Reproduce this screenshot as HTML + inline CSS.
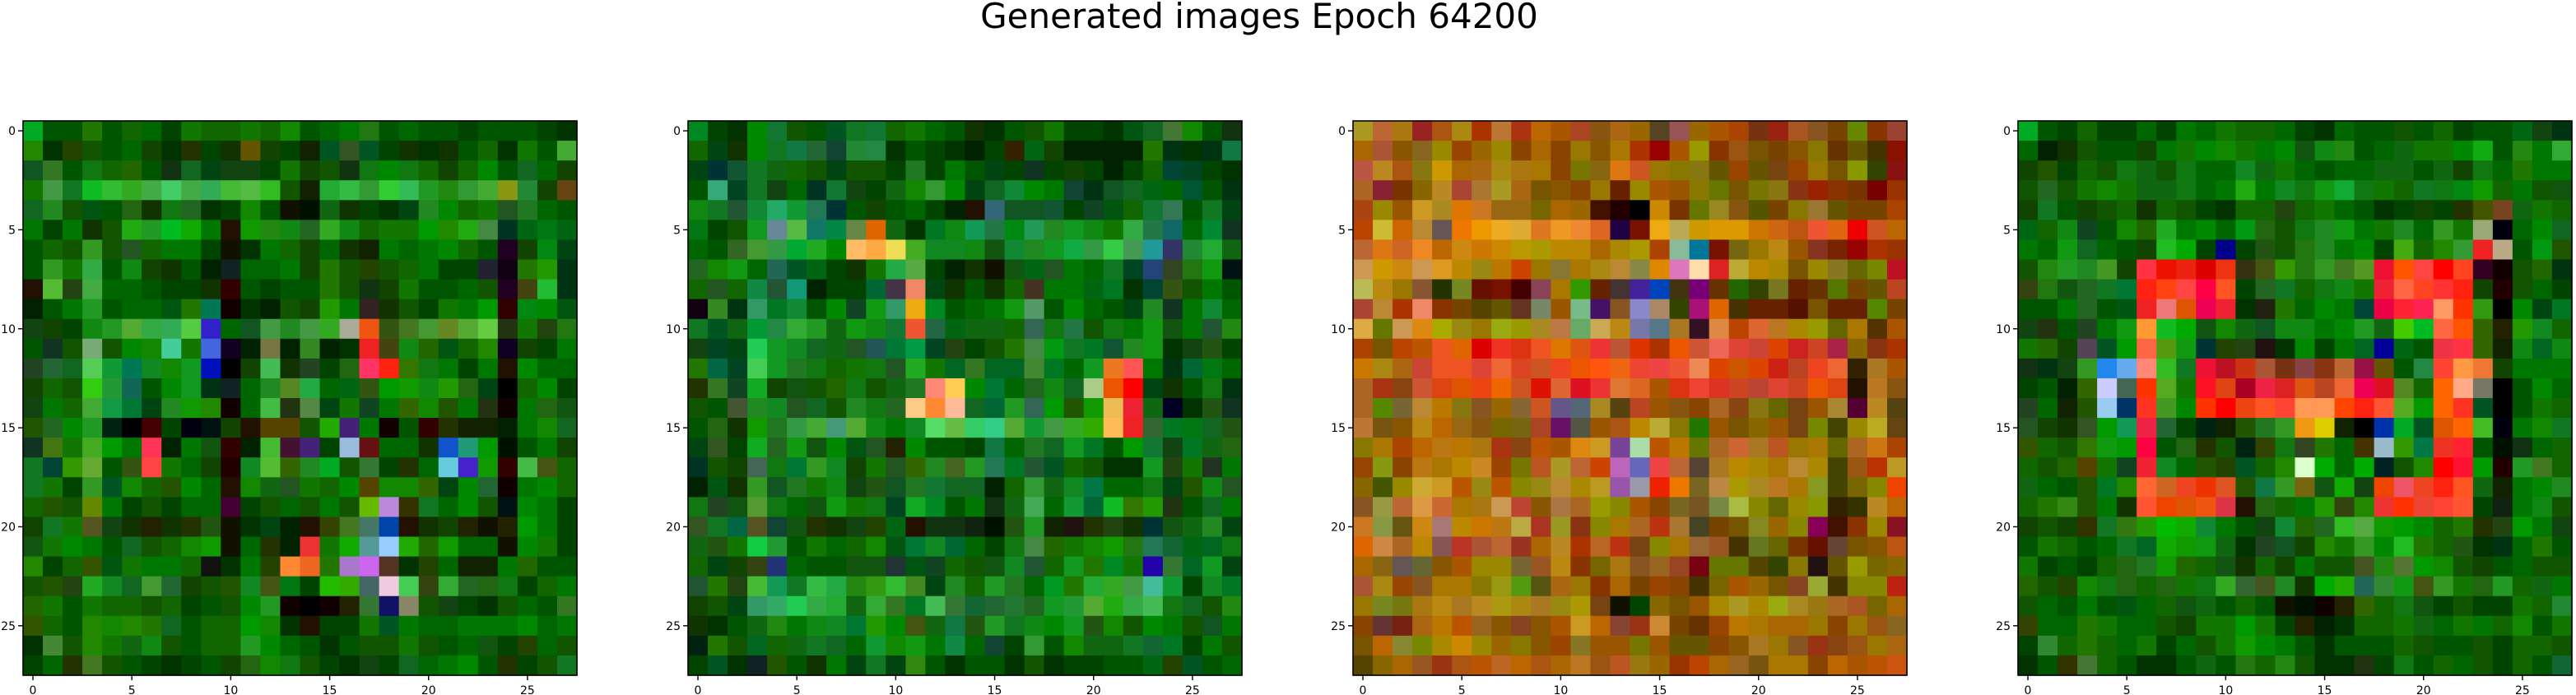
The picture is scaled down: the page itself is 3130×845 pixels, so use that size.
<!DOCTYPE html>
<html><head><meta charset="utf-8">
<style>
html,body{margin:0;padding:0;background:#fff;}
body{width:3130px;height:845px;overflow:hidden;position:relative;font-family:"DejaVu Sans","Liberation Sans",sans-serif;}
svg{position:absolute;left:0;top:0;}
</style></head>
<body>
<svg id="fig" width="3130" height="845" viewBox="0 0 3130 845" xmlns="http://www.w3.org/2000/svg">
<text x="1530" y="34" text-anchor="middle" font-size="42" font-family="DejaVu Sans, Liberation Sans, sans-serif" fill="#000">Generated images Epoch 64200</text>
</svg>
<script>
const tickValues = [0, 5, 10, 15, 20, 25];
const tickLabels = ["0", "5", "10", "15", "20", "25"];
const img1 = [
"0a2 050 050 270 050 160 060 040 170 160 160 170 160 180 050 060 070 271 050 060 050 050 040 050 050 050 040 030",
"280 030 240 150 050 060 140 030 230 040 130 650 140 040 120 052 352 052 040 130 030 130 050 160 030 170 050 4a3",
"152 372 050 171 160 260 050 131 162 041 141 141 040 170 140 150 131 171 080 171 160 140 160 080 050 162 060 140",
"170 494 172 1b2 3b3 3a2 4a4 4c6 4a4 3a5 4b3 5b4 3b2 150 120 2a3 3b4 393 3c3 3b5 292 281 393 4a3 891 283 140 641",
"162 282 150 051 050 261 130 171 262 030 040 180 050 110 010 161 130 040 030 041 282 080 160 170 252 272 060 050",
"070 040 070 130 150 2a1 292 0b2 1a0 070 210 190 281 181 262 3a2 181 160 170 170 090 280 2a1 484 032 061 071 061",
"050 160 150 392 150 252 160 070 070 040 110 030 070 160 140 060 130 120 070 060 070 080 160 050 202 140 081 041",
"050 392 170 3a4 050 181 140 130 050 020 122 060 060 070 140 270 150 240 150 160 070 040 040 223 101 270 290 031",
"210 5b3 241 4a4 060 060 050 040 040 130 300 050 040 050 050 270 150 131 140 170 050 050 060 150 202 441 2b3 031",
"020 050 070 292 050 060 060 051 270 075 100 030 020 150 140 290 070 322 130 150 040 170 070 090 300 081 080 051",
"141 140 040 181 292 5a3 3a4 3a5 5c4 32c 060 152 494 282 494 3a2 aa9 e51 351 472 493 682 5a3 6c4 231 170 241 271",
"050 132 150 7a7 150 080 180 4c9 170 46d 102 020 774 020 382 020 030 e22 441 181 260 051 160 280 102 140 040 070",
"242 263 162 5c5 193 075 182 180 192 01b 000 140 4b5 130 242 040 261 f36 f21 370 171 070 040 070 210 080 060 060",
"140 160 150 3c1 293 165 050 080 192 031 122 060 282 582 2a4 060 061 351 090 190 181 290 261 041 000 160 080 040",
"141 070 160 4a3 194 073 041 282 190 280 100 060 4b4 231 584 041 170 142 070 360 180 250 070 231 100 070 261 151",
"250 262 080 292 021 000 400 040 001 011 140 210 540 540 150 2a0 427 070 100 050 300 230 120 120 020 070 180 162",
"132 471 170 4a2 090 070 f35 020 070 151 300 020 4b3 413 427 040 9bd 611 060 060 130 15c 297 090 010 050 070 140",
"172 043 390 6a3 050 351 f44 170 060 140 200 182 5b3 360 282 0a2 150 373 040 230 060 6cd 42c 190 300 4b4 451 160",
"172 170 040 392 052 180 160 250 080 060 210 180 161 252 170 160 080 540 180 180 360 041 080 263 100 070 080 160",
"160 250 150 680 070 040 150 040 060 060 403 040 150 060 150 070 150 6b0 b8d 330 172 060 080 150 011 080 070 040",
"140 172 170 552 141 130 220 130 230 251 110 030 041 020 210 340 472 476 04a 210 130 140 220 110 220 090 070 040",
"151 170 080 070 050 162 150 160 180 190 110 060 230 020 e33 170 1a0 599 9cf 2a0 260 190 060 060 110 080 170 040",
"280 040 160 350 051 170 070 070 160 111 030 070 240 f83 e62 270 a7c c6e 532 030 240 060 120 120 070 260 050 050",
"150 250 241 2a2 182 162 493 263 140 150 250 182 451 071 040 2b0 3a0 466 ecd 4c5 341 3a3 262 261 171 040 160 070",
"260 170 050 170 160 160 150 160 040 050 150 080 292 100 000 100 220 373 116 886 150 141 040 030 150 060 050 372",
"350 160 050 280 180 280 270 162 050 160 160 090 180 030 210 040 040 170 052 070 060 060 070 070 070 080 060 070",
"030 483 150 280 170 161 181 150 050 160 160 292 080 060 050 030 050 150 150 170 150 050 060 151 040 240 060 150",
"040 060 230 472 150 050 040 030 040 050 140 261 180 171 150 040 030 141 040 162 060 070 080 050 230 040 150 172"];
const img2 = [
"082 040 030 080 173 150 050 052 172 173 160 170 060 050 130 030 050 150 170 040 040 030 051 162 473 180 050 131",
"160 041 130 080 172 174 263 143 283 284 030 050 040 030 020 040 320 061 140 020 020 020 020 270 031 030 031 174",
"041 033 153 172 161 160 150 041 150 150 040 272 040 070 050 041 040 132 040 140 040 020 040 160 043 042 040 030",
"050 3a7 042 172 141 060 032 173 141 040 161 180 393 080 041 162 183 080 070 143 031 152 162 061 060 053 050 031",
"181 172 253 183 2a6 193 275 033 050 140 050 060 040 020 210 367 152 152 153 040 142 051 160 173 375 050 172 041",
"071 040 150 192 689 5b4 176 084 684 d60 161 030 072 181 195 274 081 295 282 192 181 170 3a4 274 166 060 083 132",
"060 050 362 493 394 0a3 2a2 080 fb6 fa4 ed5 4a2 182 182 181 151 183 282 192 1a4 394 3c4 495 299 336 283 2a3 161",
"262 180 191 060 265 052 061 040 130 170 2a4 5a4 040 020 130 110 151 061 252 070 060 172 042 247 342 271 191 011",
"160 252 160 184 253 197 020 040 040 063 434 e86 041 130 050 130 160 432 070 070 061 072 030 043 351 150 070 050",
"101 382 031 396 072 183 050 080 142 191 396 ea1 082 050 060 070 191 596 050 080 060 050 041 282 132 070 183 060",
"172 052 161 093 284 3a3 292 161 191 181 173 e53 264 061 161 161 160 365 171 274 150 171 070 191 151 070 253 281",
"141 042 041 2c5 192 182 162 161 252 255 073 094 042 241 040 150 270 484 091 172 072 153 282 191 030 141 251 040",
"270 064 042 4c5 192 272 171 160 170 171 252 2a2 170 062 372 062 062 483 072 060 192 e72 f55 070 031 063 071 060",
"230 372 142 1a2 140 151 150 260 171 150 161 272 f87 fc5 080 073 060 262 181 162 ac8 e50 f00 041 130 050 171 031",
"150 050 453 282 182 252 162 150 282 171 262 fc8 f83 fb9 162 063 292 365 090 250 190 eb5 e23 161 002 030 251 132",
"050 261 130 190 272 394 4a3 497 5a3 181 070 182 5d6 6b4 3c6 3c8 5a3 193 494 3a2 3a0 fb5 e22 363 072 071 162 251",
"041 352 040 1a2 262 191 151 080 051 252 220 080 050 050 040 174 060 272 162 192 072 050 090 173 141 072 161 261",
"032 150 140 465 171 073 392 182 140 170 252 360 282 462 292 275 072 253 052 160 150 030 030 192 241 170 232 070",
"020 051 130 392 152 272 170 181 141 251 152 272 173 162 162 020 160 393 161 182 074 060 060 171 041 250 181 252",
"171 242 151 593 171 060 151 191 170 171 042 1a2 082 050 070 131 161 4a5 060 193 063 1b2 370 290 231 050 162 070",
"352 172 064 552 143 151 230 130 141 240 061 210 131 131 121 010 251 292 120 211 230 241 130 033 151 161 282 041",
"161 251 170 1c4 293 050 170 060 160 180 051 073 182 063 060 040 171 484 260 170 180 190 271 275 163 061 062 171",
"160 041 140 341 237 060 050 050 151 151 233 051 142 160 150 151 182 253 160 192 270 082 170 20a 373 062 192 041",
"253 270 241 4b3 195 172 3b4 2a4 281 391 3b3 482 041 282 160 292 272 060 092 270 2a3 3a2 494 4b9 193 040 182 072",
"140 150 041 396 3a6 2c5 3a4 2a3 161 3a3 372 072 4b5 373 163 263 273 262 192 293 5a3 2a1 3a4 4b5 171 162 150 281",
"130 030 050 161 281 070 181 182 073 290 080 451 161 174 251 292 172 181 080 192 251 180 150 080 070 150 152 070",
"021 270 150 062 160 161 172 162 060 193 180 191 070 184 060 143 040 393 050 180 161 161 172 163 072 040 070 150",
"040 052 030 122 250 050 130 070 041 172 041 381 050 030 050 050 030 150 030 040 040 050 050 061 240 052 050 060"];
const img3 = [
"a92 b63 a71 922 a51 a81 a30 b73 a31 b60 a50 a42 851 a61 960 542 955 960 a50 a40 731 921 a52 852 740 680 830 943",
"a60 a53 850 862 980 940 960 980 840 a60 840 970 850 a70 a30 900 a50 990 830 951 750 740 850 870 630 650 430 810",
"b54 b82 a51 871 c90 a60 a61 a81 a71 a70 840 770 861 d71 c52 970 870 871 650 940 650 741 940 970 750 890 340 811",
"a62 823 730 860 b82 a43 a73 a92 a61 750 850 840 970 620 980 a50 950 870 670 750 770 871 831 920 830 730 700 930",
"a41 980 950 c92 a82 d70 c72 961 961 760 a60 960 410 200 000 c80 730 670 982 851 550 740 870 973 650 740 740 a40",
"b40 cb3 c60 b83 655 e70 e90 ea2 da3 d72 e92 e83 d62 204 710 ea1 ba5 c90 d90 d90 c70 c61 b51 e53 d61 e00 c52 b60",
"b63 d71 c62 e82 b60 c81 c70 c80 b90 a90 b80 b80 a60 a80 a90 a40 8b9 079 710 761 970 b81 950 832 720 900 a30 930",
"c95 c90 c81 c95 d92 b80 981 b70 c40 970 873 a70 a81 b83 884 d80 d7b fda d22 ba3 b80 a80 750 980 872 660 780 b12",
"bb5 b81 970 853 230 782 610 710 400 845 a70 390 620 433 429 04b 431 707 630 260 340 772 620 630 570 740 650 b42",
"a43 b83 a30 e86 830 740 540 650 632 786 950 7b8 416 852 88c a86 340 a17 d60 430 620 620 510 750 620 620 580 740",
"da4 670 c95 d81 aa0 981 970 9a1 990 a82 b74 6a6 ca5 b81 77a 578 a72 312 d84 b40 d63 b72 a80 990 660 a70 530 a50",
"a40 750 b40 b50 e52 d60 d00 e32 d31 e52 d70 d51 e33 b53 d30 a30 e50 c53 e65 d43 c43 d40 c22 c42 a24 860 831 a30",
"c70 a81 a61 c43 e52 e52 d43 e63 d42 c52 e42 e50 f51 e61 e43 e44 e53 e85 d40 c50 d40 c21 b42 e42 e63 320 a72 a50",
"a62 a31 841 c53 d41 d50 e41 e60 c52 d10 d63 d12 e33 d73 d62 a50 d31 e43 d32 c42 b43 d43 c42 e50 d41 210 b72 851",
"a62 580 763 b83 b70 871 852 960 863 c52 658 567 a82 541 b42 950 851 840 a62 841 871 660 741 950 a83 503 b82 541",
"b73 751 850 b81 b60 961 851 760 761 a42 616 554 950 a51 b80 ba3 870 270 950 750 860 950 741 780 440 980 ba2 641",
"870 a70 a40 b60 b71 b70 a71 a31 841 b50 a50 d81 c92 749 ada b50 b70 670 a62 c63 a72 b52 970 a70 660 a62 c71 a40",
"940 891 840 b71 a70 b80 c82 940 770 b52 a92 b63 c40 b6b 66b e44 b63 543 a72 b80 a80 a70 b83 a80 440 951 b30 b92",
"860 450 980 ca3 c92 b50 981 b50 880 981 b83 a80 b92 95a 99a e20 e70 762 b84 a90 a82 b72 a70 892 440 760 880 e40",
"852 994 b63 d94 c63 a70 a71 c95 b43 850 a74 a62 990 880 a50 840 762 752 784 ab4 880 660 980 890 320 330 b82 b60",
"c72 894 651 c81 a77 b80 c70 b71 ba4 a32 992 831 880 a70 a62 b31 a73 442 740 750 882 960 880 805 410 830 980 812",
"d60 c84 a62 b80 855 b32 a53 b63 932 a60 b82 a30 b62 b31 741 880 a70 963 952 430 672 660 730 610 643 750 850 b51",
"a60 861 655 663 850 a50 980 980 763 952 b81 830 760 a71 852 962 942 701 670 670 540 340 870 211 650 990 760 860",
"a53 a81 940 852 a70 a70 870 991 591 551 a61 970 830 a60 740 940 840 430 760 a50 960 750 842 9a3 430 880 880 b21",
"970 782 771 a71 b81 a72 b82 a91 a81 a72 981 a90 741 110 040 860 750 950 a80 a92 a80 9a1 a82 971 a62 a52 760 a60",
"840 633 721 a61 b70 b50 962 850 842 850 a50 c92 b60 843 931 c83 740 630 940 b70 a70 a60 a60 970 840 970 951 862",
"750 b60 883 780 a80 c80 980 960 870 850 940 872 950 950 770 950 650 650 840 850 a72 970 852 931 841 951 970 a61",
"540 860 a60 952 931 a51 b50 b62 b60 a51 a60 b72 951 b52 971 960 930 b40 a60 962 751 a70 a70 840 b60 a50 b50 c51"];
const img4 = [
"0a2 050 040 160 040 040 060 040 070 060 170 160 160 060 040 030 060 050 050 150 050 160 040 050 050 061 141 031",
"060 020 130 150 050 050 140 070 170 080 180 170 070 080 151 181 281 050 060 161 170 170 080 1a1 050 281 070 3a3",
"140 250 040 160 150 171 161 150 171 060 060 182 161 170 060 050 060 060 161 161 050 161 140 171 060 270 070 070",
"150 262 150 170 180 170 161 161 171 060 070 2a1 070 182 171 191 1a3 171 170 160 172 171 081 190 160 070 150 151",
"140 172 050 140 150 160 130 160 150 040 030 160 160 241 160 170 060 050 030 040 140 040 230 450 742 161 170 160",
"061 160 181 142 050 180 260 2a2 070 080 060 091 261 150 171 282 191 070 170 282 060 392 170 9a7 001 060 080 162",
"070 060 191 162 060 050 140 2b2 0a0 040 008 040 251 150 271 282 070 080 040 4a1 160 280 393 e22 ba8 050 091 250",
"150 281 292 282 492 140 f34 e10 e21 d00 e31 331 451 390 271 392 472 592 e13 f50 f44 f00 f42 302 100 150 260 031",
"341 271 151 262 172 073 f21 f41 f44 f04 f52 040 262 172 160 171 181 170 e23 f64 f42 f33 f21 140 200 150 060 040",
"050 050 070 262 050 051 e22 e77 d50 e05 e23 030 221 270 060 080 070 043 e04 f23 f25 f96 f30 391 000 080 041 072",
"141 231 050 242 070 191 f93 1b2 0a0 151 180 161 152 181 181 070 080 292 161 4c0 0b2 f64 f50 360 220 290 182 160",
"170 260 140 545 052 090 f64 591 191 033 240 241 211 030 080 040 070 062 009 061 050 e34 f34 360 120 181 062 181",
"131 031 141 392 28e 6ae f87 3b2 172 e13 b12 c31 a53 731 844 831 b63 914 650 050 284 f43 f94 e73 140 070 070 070",
"040 050 020 360 ccf 465 f30 5a2 170 f12 d41 a02 e24 d22 d51 b42 e63 e05 d12 582 160 f60 fa8 776 000 050 080 060",
"242 060 120 250 9ce 036 f32 492 080 f30 f00 e41 f52 f43 f95 f95 f40 f21 f53 5a2 090 f60 f32 052 000 050 170 160",
"252 140 130 352 090 195 e24 263 040 021 120 250 272 392 e91 dc0 120 000 03a 0a2 052 d50 f60 4b2 001 070 180 172",
"350 160 150 370 191 090 f04 050 261 230 150 021 340 171 342 270 060 430 9bc 390 074 e32 f23 050 010 131 060 160",
"160 150 260 540 170 142 e23 182 060 250 240 052 160 280 dfc 0a0 060 0a0 022 150 280 f00 f13 090 200 292 472 160",
"161 060 050 250 072 280 f63 c62 e42 e30 d52 250 174 392 761 151 1a0 141 e40 e56 e42 f21 f52 161 120 070 080 282",
"160 270 381 250 070 130 f53 e40 d50 e51 d34 210 261 160 070 290 341 280 e33 f30 e43 f43 f53 040 121 070 181 150",
"140 150 140 330 172 371 290 0b0 1a0 183 070 050 141 183 260 262 3b2 5a4 190 090 080 160 270 230 241 090 070 141",
"050 170 160 050 060 172 062 1a0 190 191 161 030 242 152 140 280 170 392 080 2b2 270 160 251 030 031 060 270 050",
"170 040 050 040 160 261 272 190 260 160 151 130 160 140 070 150 150 452 281 573 090 180 150 140 050 060 150 150",
"260 150 240 180 171 261 160 261 170 171 3a2 363 452 282 130 0a0 2a0 265 383 191 451 392 170 261 292 160 161 070",
"150 060 050 070 050 051 060 160 151 161 050 160 050 110 010 100 220 360 160 171 151 040 150 040 040 170 160 283",
"340 060 060 270 170 060 060 150 140 170 170 090 170 040 220 020 030 160 160 170 161 060 170 070 160 180 050 170",
"040 383 160 270 160 060 170 040 060 150 170 190 080 070 050 030 050 050 050 160 150 050 050 150 040 160 160 150",
"030 050 330 473 160 050 030 030 050 161 050 271 160 281 150 030 030 231 040 171 050 160 060 150 040 160 050 163"];
const images = [img1, img2, img3, img4];

const NS = "http://www.w3.org/2000/svg";
const svg = document.getElementById("fig");
const PANEL_X = [28, 836, 1644, 2452];
const PANEL_Y = 147, PW = 673, PH = 674, N = 28;
function xScale(p, i) { return PANEL_X[p] + i * PW / N; }
function yScale(j) { return PANEL_Y + j * PH / N; }

images.forEach((img, p) => {
  const g = document.createElementNS(NS, "g");
  
  
  svg.appendChild(g);
  img.forEach((row, j) => {
    row.split(" ").forEach((c, i) => {
      const r = document.createElementNS(NS, "rect");
      
      
      const x0 = xScale(p, i), x1 = xScale(p, i + 1), y0 = yScale(j), y1 = yScale(j + 1);
      r.setAttribute("x", x0); r.setAttribute("y", y0);
      r.setAttribute("width", x1 - x0 + 0.6); r.setAttribute("height", y1 - y0 + 0.6);
      r.setAttribute("fill", "#" + c);
      g.appendChild(r);
    });
  });
  const frame = document.createElementNS(NS, "rect");
  
  
  frame.setAttribute("x", PANEL_X[p]); frame.setAttribute("y", PANEL_Y);
  frame.setAttribute("width", PW); frame.setAttribute("height", PH);
  frame.setAttribute("fill", "none"); frame.setAttribute("stroke", "#000"); frame.setAttribute("stroke-width", "1.6");
  g.appendChild(frame);
  tickValues.forEach((v, k) => {
    const cx = xScale(p, v + 0.5), cy = yScale(v + 0.5);
    const tx = document.createElementNS(NS, "line");
    
    
    tx.setAttribute("x1", cx); tx.setAttribute("x2", cx);
    tx.setAttribute("y1", PANEL_Y + PH); tx.setAttribute("y2", PANEL_Y + PH + 6);
    tx.setAttribute("stroke", "#000"); tx.setAttribute("stroke-width", "1.4");
    g.appendChild(tx);
    const lx = document.createElementNS(NS, "text");
    
    
    lx.setAttribute("x", cx); lx.setAttribute("y", PANEL_Y + PH + 23);
    lx.setAttribute("text-anchor", "middle"); lx.setAttribute("font-size", "14");
    lx.textContent = tickLabels[k];
    g.appendChild(lx);
    const ty = document.createElementNS(NS, "line");
    
    
    ty.setAttribute("x1", PANEL_X[p] - 6); ty.setAttribute("x2", PANEL_X[p]);
    ty.setAttribute("y1", cy); ty.setAttribute("y2", cy);
    ty.setAttribute("stroke", "#000"); ty.setAttribute("stroke-width", "1.4");
    g.appendChild(ty);
    const ly = document.createElementNS(NS, "text");
    
    
    ly.setAttribute("x", PANEL_X[p] - 9); ly.setAttribute("y", cy + 5);
    ly.setAttribute("text-anchor", "end"); ly.setAttribute("font-size", "14");
    ly.textContent = tickLabels[k];
    g.appendChild(ly);
  });
});
</script>
</body></html>
